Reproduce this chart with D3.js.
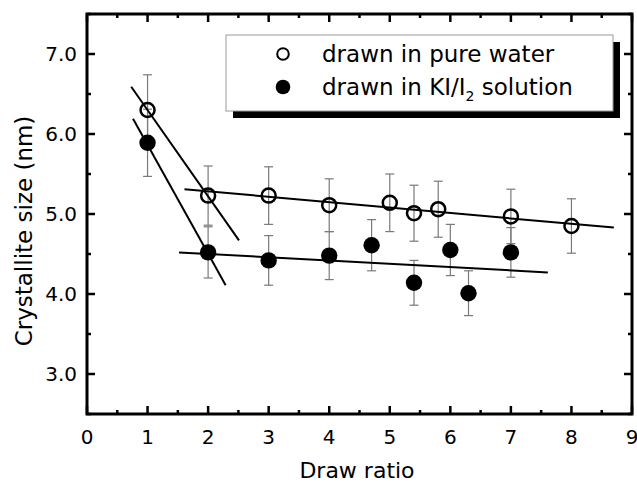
<!DOCTYPE html>
<html>
<head>
<meta charset="utf-8">
<script src="https://cdn.jsdelivr.net/npm/d3@7"></script>
<style>
  body { margin: 0; background: #fff; }
  svg text { font-family: "DejaVu Sans", sans-serif; fill: #000; }
</style>
</head>
<body>
<svg id="chart" width="637" height="482"></svg>
<script>
// drawn in pure water
var ratioWater = [1, 2, 3, 4, 5, 5.4, 5.8, 7, 8];
var sizeWater  = [6.30, 5.23, 5.23, 5.11, 5.14, 5.01, 5.06, 4.97, 4.85];
var errWater   = [0.44, 0.37, 0.36, 0.33, 0.36, 0.35, 0.35, 0.34, 0.34];

// drawn in KI/I2 solution
var ratioKI = [1, 2, 3, 4, 4.7, 5.4, 6, 6.3, 7];
var sizeKI  = [5.89, 4.52, 4.42, 4.48, 4.61, 4.14, 4.55, 4.01, 4.52];
var errKI   = [0.42, 0.32, 0.31, 0.30, 0.32, 0.28, 0.32, 0.28, 0.31];

// fitted lines, [[x1, y1], [x2, y2]]
var fitLines = [
  [[0.73, 6.59], [2.51, 4.67]],
  [[0.76, 6.19], [2.29, 4.11]],
  [[1.61, 5.31], [8.70, 4.83]],
  [[1.52, 4.52], [7.61, 4.27]]
];

var xTicks = [0, 1, 2, 3, 4, 5, 6, 7, 8, 9];
var yTicks = [3.0, 4.0, 5.0, 6.0, 7.0];

var margin = {top: 14, right: 5, bottom: 68, left: 87};
var W = 637, H = 482;
var w = W - margin.left - margin.right;
var h = H - margin.top - margin.bottom;

var svg = d3.select("#chart");
var g = svg.append("g").attr("transform", "translate(" + margin.left + "," + margin.top + ")");

var x = d3.scaleLinear().domain([0, 9]).range([0, w]);
var y = d3.scaleLinear().domain([2.5, 7.5]).range([h, 0]);

// ticks, inward on all four sides
var minorX = d3.range(0.5, 9, 1);
var minorY = d3.range(2.5, 7.6, 0.5).filter(function (v) { return Math.abs(v - Math.round(v)) > 0.1; });

function ticksX(vals, y0, len) {
  g.selectAll(null).data(vals).enter().append("line")
    .attr("x1", function (d) { return x(d); }).attr("x2", function (d) { return x(d); })
    .attr("y1", y0).attr("y2", y0 + len)
    .attr("stroke", "#000").attr("stroke-width", 2.5);
}
function ticksY(vals, x0, len) {
  g.selectAll(null).data(vals).enter().append("line")
    .attr("y1", function (d) { return y(d); }).attr("y2", function (d) { return y(d); })
    .attr("x1", x0).attr("x2", x0 + len)
    .attr("stroke", "#000").attr("stroke-width", 2.5);
}
ticksX(xTicks, h, -8);  ticksX(minorX, h, -4);
ticksX(xTicks, 0, 8);   ticksX(minorX, 0, 4);
ticksY(yTicks, 0, 8);   ticksY(minorY, 0, 4);
ticksY(yTicks, w, -8);  ticksY(minorY, w, -4);

g.append("rect").attr("width", w).attr("height", h)
  .attr("fill", "none").attr("stroke", "#000").attr("stroke-width", 3);

g.selectAll(null).data(xTicks).enter().append("text")
  .attr("x", function (d) { return x(d); }).attr("y", h + 30)
  .attr("text-anchor", "middle").style("font-size", "20px")
  .text(function (d) { return d; });

g.selectAll(null).data(yTicks).enter().append("text")
  .attr("x", -10).attr("y", function (d) { return y(d); }).attr("dy", "0.35em")
  .attr("text-anchor", "end").style("font-size", "20px")
  .text(function (d) { return d.toFixed(1); });

svg.append("text").attr("x", 357).attr("y", 478)
  .attr("text-anchor", "middle").style("font-size", "22px").text("Draw ratio");

svg.append("text").attr("transform", "translate(32,231) rotate(-90)")
  .attr("text-anchor", "middle").style("font-size", "23px").text("Crystallite size (nm)");

// error bars
function errorBars(xs, ys, es) {
  var eb = g.append("g").attr("stroke", "#7a7a7a").attr("stroke-width", 1.2);
  xs.forEach(function (xv, i) {
    var px = x(xv), top = y(ys[i] + es[i]), bot = y(ys[i] - es[i]);
    eb.append("line").attr("x1", px).attr("x2", px).attr("y1", top).attr("y2", bot);
    eb.append("line").attr("x1", px - 4.5).attr("x2", px + 4.5).attr("y1", top).attr("y2", top);
    eb.append("line").attr("x1", px - 4.5).attr("x2", px + 4.5).attr("y1", bot).attr("y2", bot);
  });
}
errorBars(ratioWater, sizeWater, errWater);
errorBars(ratioKI, sizeKI, errKI);

// fitted lines
var line = d3.line().x(function (d) { return x(d[0]); }).y(function (d) { return y(d[1]); });
g.selectAll(null).data(fitLines).enter().append("path")
  .attr("d", line).attr("fill", "none").attr("stroke", "#000").attr("stroke-width", 2);

// markers
g.selectAll(null).data(ratioWater).enter().append("circle")
  .attr("cx", function (d) { return x(d); })
  .attr("cy", function (d, i) { return y(sizeWater[i]); })
  .attr("r", 7).attr("fill", "none").attr("stroke", "#000").attr("stroke-width", 2.5);

g.selectAll(null).data(ratioKI).enter().append("circle")
  .attr("cx", function (d) { return x(d); })
  .attr("cy", function (d, i) { return y(sizeKI[i]); })
  .attr("r", 8.2).attr("fill", "#000");

// legend
var lg = svg.append("g").attr("transform", "translate(226,35)");
lg.append("rect").attr("x", 7).attr("y", 7).attr("width", 387).attr("height", 76).attr("fill", "#000");
lg.append("rect").attr("width", 387).attr("height", 76).attr("fill", "#fff").attr("stroke", "#999").attr("stroke-width", 1);
lg.append("circle").attr("cx", 57).attr("cy", 19).attr("r", 5.8)
  .attr("fill", "none").attr("stroke", "#000").attr("stroke-width", 2);
lg.append("circle").attr("cx", 57).attr("cy", 52).attr("r", 7.3).attr("fill", "#000");
lg.append("text").attr("x", 96).attr("y", 19).attr("dy", "0.35em")
  .style("font-size", "23px").text("drawn in pure water");
var t2 = lg.append("text").attr("x", 96).attr("y", 52).attr("dy", "0.35em").style("font-size", "23px");
t2.append("tspan").text("drawn in KI/I");
t2.append("tspan").attr("dy", "6").style("font-size", "14px").text("2");
t2.append("tspan").attr("dy", "-6").text(" solution");
</script>
</body>
</html>
